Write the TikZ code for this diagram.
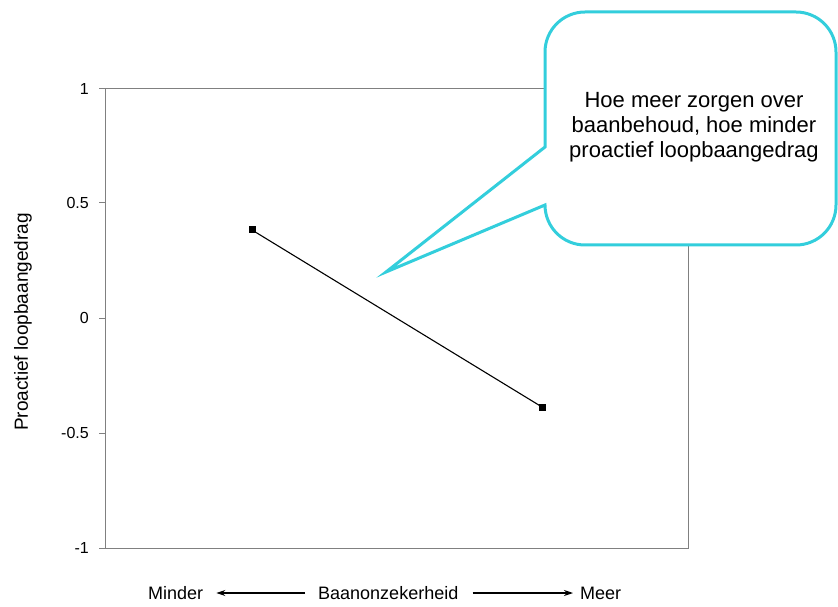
\documentclass[tikz,border=0pt]{standalone}
\usepackage{fontspec}
\setmainfont{Liberation Sans}
\usetikzlibrary{arrows.meta}
\definecolor{calloutcol}{RGB}{51,206,220}
\definecolor{axisgray}{RGB}{128,128,128}
\begin{document}
\begin{tikzpicture}[x=1pt,y=1pt,
  axisline/.style={draw=axisgray, line width=1pt},
  ticklab/.style={anchor=east, font=\fontsize{16}{19}\selectfont, inner sep=0pt},
  axlab/.style={font=\fontsize{18}{21}\selectfont, inner sep=0pt},
  marker/.style={fill=black, draw=none, rectangle, minimum size=7pt, inner sep=0pt},
  dirarrow/.style={-{Stealth[length=9pt,width=6pt]}, line width=1.1pt},
  calloutline/.style={draw=calloutcol, line width=3pt, line join=miter, fill=white},
  callouttext/.style={align=center, font=\fontsize{22}{25}\selectfont, inner sep=0pt}
]
\useasboundingbox (0,0) rectangle (838,606);
% plot frame
\draw[axisline] (105,58) rectangle (688,517);
% ticks
\foreach \yy/\lab in {517/1, 403/0.5, 288/0, 173/-0.5, 58/-1}{
  \draw[axisline] (99,\yy) -- (105,\yy);
  \node[ticklab] at (89,\yy) {\lab};
}
% y label
\node[axlab, font=\fontsize{19}{22}\selectfont, rotate=90] (ylab) at (23,284) {Proactief loopbaangedrag};
% data
\node[marker] (p1) at (252,376) {};
\node[marker] (p2) at (542,199) {};
\draw[line width=1.1pt] (p1.center) -- (p2.center);
% x axis labels
\node[axlab, anchor=west] (minder) at (148,13) {Minder};
\node[axlab, anchor=west] (baan) at (318,13) {Baanonzekerheid};
\node[axlab, anchor=west] (meer) at (580,13) {Meer};
\draw[dirarrow, shorten <=13pt, shorten >=13pt] (baan.west) -- (minder.east);
\draw[dirarrow, shorten <=14pt, shorten >=7pt] (baan.east) -- (meer.west);
% callout
\coordinate (tip) at (386,334);
\draw[calloutline] (545,459) -- (545,554) arc (180:90:40) -- (796,594) arc (90:0:40)
  -- (836,401) arc (0:-90:40) -- (585,361) arc (270:180:40) -- (545,401) -- (tip) -- cycle;
\node[callouttext] (note) at (694,479) {Hoe meer zorgen over\\baanbehoud, hoe minder\\proactief loopbaangedrag};
\end{tikzpicture}
\end{document}
